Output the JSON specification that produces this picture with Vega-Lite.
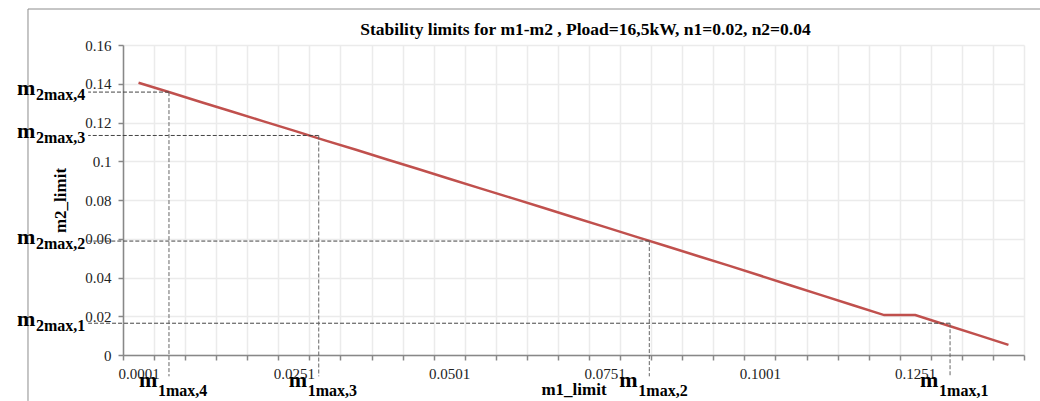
{
  "$schema": "https://vega.github.io/schema/vega-lite/v6.json",
  "width": 901,
  "height": 310,
  "autosize": {"type": "none"},
  "padding": {"left": 123, "top": 45, "right": 16, "bottom": 46},
  "background": "white",
  "config": {"view": {"stroke": null}, "font": "Liberation Serif"},
  "resolve": {"axis": {"x": "independent", "y": "independent"}},
  "title": {
    "text": "Stability limits for m1-m2 , Pload=16,5kW, n1=0.02, n2=0.04",
    "font": "Liberation Serif",
    "fontSize": 17.5,
    "fontWeight": "bold",
    "color": "#000000",
    "anchor": "middle",
    "frame": "group",
    "dx": 12,
    "baseline": "alphabetic",
    "offset": -44
  },
  "datasets": {
    "curve": [
      {"m1_limit": 0.0001, "m2_limit": 0.1405},
      {"m1_limit": 0.0051, "m2_limit": 0.1356},
      {"m1_limit": 0.0101, "m2_limit": 0.1306},
      {"m1_limit": 0.0151, "m2_limit": 0.1257},
      {"m1_limit": 0.0201, "m2_limit": 0.1207},
      {"m1_limit": 0.0251, "m2_limit": 0.1158},
      {"m1_limit": 0.0301, "m2_limit": 0.1108},
      {"m1_limit": 0.0351, "m2_limit": 0.1059},
      {"m1_limit": 0.0401, "m2_limit": 0.1009},
      {"m1_limit": 0.0451, "m2_limit": 0.0960},
      {"m1_limit": 0.0501, "m2_limit": 0.0910},
      {"m1_limit": 0.0551, "m2_limit": 0.0860},
      {"m1_limit": 0.0601, "m2_limit": 0.0811},
      {"m1_limit": 0.0651, "m2_limit": 0.0761},
      {"m1_limit": 0.0701, "m2_limit": 0.0711},
      {"m1_limit": 0.0751, "m2_limit": 0.0661},
      {"m1_limit": 0.0801, "m2_limit": 0.0611},
      {"m1_limit": 0.0851, "m2_limit": 0.0561},
      {"m1_limit": 0.0901, "m2_limit": 0.0511},
      {"m1_limit": 0.0951, "m2_limit": 0.0461},
      {"m1_limit": 0.1001, "m2_limit": 0.0410},
      {"m1_limit": 0.1051, "m2_limit": 0.0359},
      {"m1_limit": 0.1101, "m2_limit": 0.0308},
      {"m1_limit": 0.1151, "m2_limit": 0.0257},
      {"m1_limit": 0.1201, "m2_limit": 0.0206},
      {"m1_limit": 0.1251, "m2_limit": 0.0206},
      {"m1_limit": 0.1301, "m2_limit": 0.0155},
      {"m1_limit": 0.1351, "m2_limit": 0.0104},
      {"m1_limit": 0.1401, "m2_limit": 0.0052}
    ],
    "ann": [
      {"k": "4", "m1": 0.0050, "m2": 0.1357, "s1": "1max,4", "s2": "2max,4"},
      {"k": "3", "m1": 0.0291, "m2": 0.1133, "s1": "1max,3", "s2": "2max,3"},
      {"k": "2", "m1": 0.0823, "m2": 0.0588, "s1": "1max,2", "s2": "2max,2"},
      {"k": "1", "m1": 0.1307, "m2": 0.0164, "s1": "1max,1", "s2": "2max,1"}
    ]
  },
  "layer": [
    {
      "data": {"name": "curve"},
      "mark": {"type": "line", "color": "#c0504d", "strokeWidth": 2.5},
      "encoding": {
        "x": {
          "field": "m1_limit",
          "type": "quantitative",
          "scale": {"domain": [-0.0024, 0.1426], "nice": false, "zero": false},
          "axis": {
            "title": "m1_limit",
            "values": [-0.0024, 0.0026, 0.0076, 0.0126, 0.0176, 0.0226, 0.0276, 0.0326, 0.0376, 0.0426, 0.0476, 0.0526, 0.0576, 0.0626, 0.0676, 0.0726, 0.0776, 0.0826, 0.0876, 0.0926, 0.0976, 0.1026, 0.1076, 0.1126, 0.1176, 0.1226, 0.1276, 0.1326, 0.1376, 0.1426],
            "labelExpr": "round((datum.value+0.0024)/0.005)%5==0 ? format(datum.value+0.0025,'.4f') : ''",
            "labelOffset": 15.5,
            "labelOverlap": false,
            "labelFlush": false,
            "labelFont": "Liberation Serif",
            "labelFontSize": 15,
            "labelColor": "#222222",
            "labelPadding": 6,
            "tickSize": 5,
            "tickColor": "#888888",
            "tickWidth": 1.5,
            "domainColor": "#888888",
            "domainWidth": 1.5,
            "grid": true,
            "gridColor": "#ebebeb",
            "gridWidth": 1.5,
            "titleFont": "Liberation Serif",
            "titleFontSize": 17,
            "titleFontWeight": "bold",
            "titleColor": "#000000",
            "titleY": 39,
            "titleBaseline": "alphabetic"
          }
        },
        "y": {
          "field": "m2_limit",
          "type": "quantitative",
          "scale": {"domain": [0, 0.16], "nice": false},
          "axis": {
            "title": "m2_limit",
            "values": [0, 0.02, 0.04, 0.06, 0.08, 0.1, 0.12, 0.14, 0.16],
            "format": "~g",
            "labelFont": "Liberation Serif",
            "labelFontSize": 15,
            "labelColor": "#222222",
            "labelPadding": 7,
            "tickSize": 5,
            "tickColor": "#888888",
            "tickWidth": 1.5,
            "domainColor": "#888888",
            "domainWidth": 1.5,
            "grid": true,
            "gridColor": "#ebebeb",
            "gridWidth": 1.5,
            "titleFont": "Liberation Serif",
            "titleFontSize": 17,
            "titleFontWeight": "bold",
            "titleColor": "#000000",
            "titleX": -58,
            "titleBaseline": "alphabetic"
          }
        }
      }
    },
    {
      "data": {"values": [{}]},
      "mark": {"type": "rule", "color": "#8c8c8c", "strokeWidth": 1},
      "encoding": {
        "x": {"datum": -0.01769, "type": "quantitative", "axis": null},
        "x2": {"datum": 0.1452},
        "y": {"datum": 0.17858, "type": "quantitative", "axis": null}
      }
    },
    {
      "data": {"values": [{}]},
      "mark": {"type": "rule", "color": "#8c8c8c", "strokeWidth": 1},
      "encoding": {
        "x": {"datum": -0.01769, "type": "quantitative", "axis": null},
        "y": {"datum": 0.17858, "type": "quantitative", "axis": null},
        "y2": {"datum": -0.0237}
      }
    },
    {
      "data": {"name": "ann"},
      "mark": {"type": "rule", "color": "#444444", "strokeWidth": 1, "strokeDash": [4, 2]},
      "encoding": {
        "x": {"field": "m1", "type": "quantitative", "axis": null},
        "x2": {"datum": -0.008},
        "y": {"field": "m2", "type": "quantitative", "axis": null}
      }
    },
    {
      "data": {"name": "ann"},
      "mark": {"type": "rule", "color": "#666666", "strokeWidth": 1, "strokeDash": [4, 2]},
      "encoding": {
        "x": {"field": "m1", "type": "quantitative", "axis": null},
        "y": {"field": "m2", "type": "quantitative", "axis": null},
        "y2": {"datum": -0.011}
      }
    },
    {
      "data": {"name": "ann"},
      "mark": {"type": "text", "text": "m", "font": "Liberation Serif", "fontSize": 22, "fontWeight": "bold", "color": "#000000", "align": "left", "baseline": "alphabetic", "dx": -106, "dy": 3},
      "encoding": {
        "x": {"datum": -0.0024, "type": "quantitative", "axis": null},
        "y": {"field": "m2", "type": "quantitative", "axis": null}
      }
    },
    {
      "data": {"name": "ann"},
      "mark": {"type": "text", "font": "Liberation Serif", "fontSize": 16, "fontWeight": "bold", "color": "#000000", "align": "left", "baseline": "alphabetic", "dx": -87, "dy": 8},
      "encoding": {
        "text": {"field": "s2", "type": "nominal"},
        "x": {"datum": -0.0024, "type": "quantitative", "axis": null},
        "y": {"field": "m2", "type": "quantitative", "axis": null}
      }
    },
    {
      "data": {"name": "ann"},
      "mark": {"type": "text", "text": "m", "font": "Liberation Serif", "fontSize": 22, "fontWeight": "bold", "color": "#000000", "align": "left", "baseline": "alphabetic", "dx": -30, "dy": 32},
      "encoding": {
        "x": {"field": "m1", "type": "quantitative", "axis": null},
        "y": {"datum": 0, "type": "quantitative", "axis": null}
      }
    },
    {
      "data": {"name": "ann"},
      "mark": {"type": "text", "font": "Liberation Serif", "fontSize": 16, "fontWeight": "bold", "color": "#000000", "align": "left", "baseline": "alphabetic", "dx": -11, "dy": 41},
      "encoding": {
        "text": {"field": "s1", "type": "nominal"},
        "x": {"field": "m1", "type": "quantitative", "axis": null},
        "y": {"datum": 0, "type": "quantitative", "axis": null}
      }
    }
  ]
}
